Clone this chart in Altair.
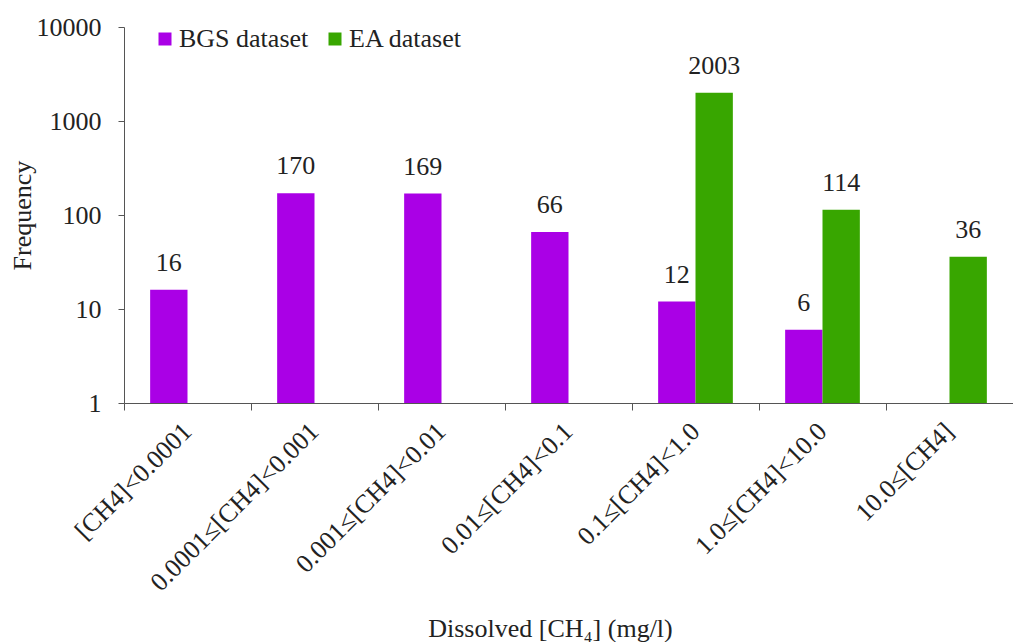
import altair as alt
import pandas as pd

categories = ["[CH4]<0.0001", "0.0001≤[CH4]<0.001", "0.001≤[CH4]<0.01",
              "0.01≤[CH4]<0.1", "0.1≤[CH4]<1.0", "1.0≤[CH4]<10.0", "10.0≤[CH4]"]
bgs_values = [16, 170, 169, 66, 12, 6, None]
ea_values = [None, None, None, None, 2003, 114, 36]
series = ["BGS dataset", "EA dataset"]
colors = ["#AA00E6", "#38A600"]
y_ticks = [1, 10, 100, 1000, 10000]

rows = []
for c, b, e in zip(categories, bgs_values, ea_values):
    if b is not None:
        rows.append({"cat": c, "series": series[0], "value": b})
    if e is not None:
        rows.append({"cat": c, "series": series[1], "value": e})
df = pd.DataFrame(rows)

FONT = "Liberation Serif"
FS = 26

x_enc = alt.X("cat:N", sort=categories,
              scale=alt.Scale(domain=categories, paddingInner=0, paddingOuter=0),
              axis=alt.Axis(title="Dissolved [CH₄] (mg/l)", labelAngle=-45, labelAlign="right",
                            labelBaseline="middle", bandPosition=0, labelLimit=400,
                            labelPadding=17, tickSize=7, labelFontSize=FS, titleFontSize=FS,
                            labelFont=FONT, titleFont=FONT, labelColor="#222", titleColor="#222",
                            titleFontWeight="normal", domainColor="#555", tickColor="#555",
                            titleX=426, titleY=233, titleAlign="center", titleBaseline="alphabetic",
                            grid=False))
xo_enc = alt.XOffset("series:N", scale=alt.Scale(domain=series, paddingInner=0, paddingOuter=0.7))
y_scale = alt.Scale(type="log", domain=[1, 10000])

bars = alt.Chart(df).mark_bar().encode(
    x=x_enc,
    xOffset=xo_enc,
    y=alt.Y("value:Q", scale=y_scale,
            axis=alt.Axis(title="Frequency", values=y_ticks, format="d", tickSize=6,
                          labelPadding=17, labelFontSize=FS, titleFontSize=FS,
                          labelFont=FONT, titleFont=FONT, labelColor="#222", titleColor="#222",
                          titleFontWeight="normal", domainColor="#555", tickColor="#555",
                          titleAngle=-90, titleX=-102, titleY=188, titleAlign="center",
                          titleBaseline="middle", grid=False)),
    y2=alt.datum(1),
    color=alt.Color("series:N", scale=alt.Scale(domain=series, range=colors),
                    legend=alt.Legend(title=None, orient="none", legendX=28, legendY=-1,
                                      direction="horizontal", symbolType="square",
                                      symbolSize=169, symbolStrokeWidth=0, labelFontSize=FS,
                                      labelFont=FONT, labelColor="#222", columnPadding=13,
                                      labelOffset=1)),
)

labels = alt.Chart(df).mark_text(fontSize=FS, font=FONT, color="#222", baseline="middle", dy=-27).encode(
    x=alt.X("cat:N", sort=categories, scale=alt.Scale(domain=categories, paddingInner=0, paddingOuter=0)),
    xOffset=xo_enc,
    y=alt.Y("value:Q", scale=y_scale),
    text=alt.Text("value:Q", format="d"),
)

chart = (bars + labels).properties(
    width=889, height=376,
    autosize=alt.AutoSizeParams(type="none"),
    padding={"left": 116, "top": 19, "right": 0, "bottom": 239},
).configure(background="white", font=FONT).configure_view(stroke=None)

chart.save("out.html", embed_options={"renderer": "svg", "actions": False})
